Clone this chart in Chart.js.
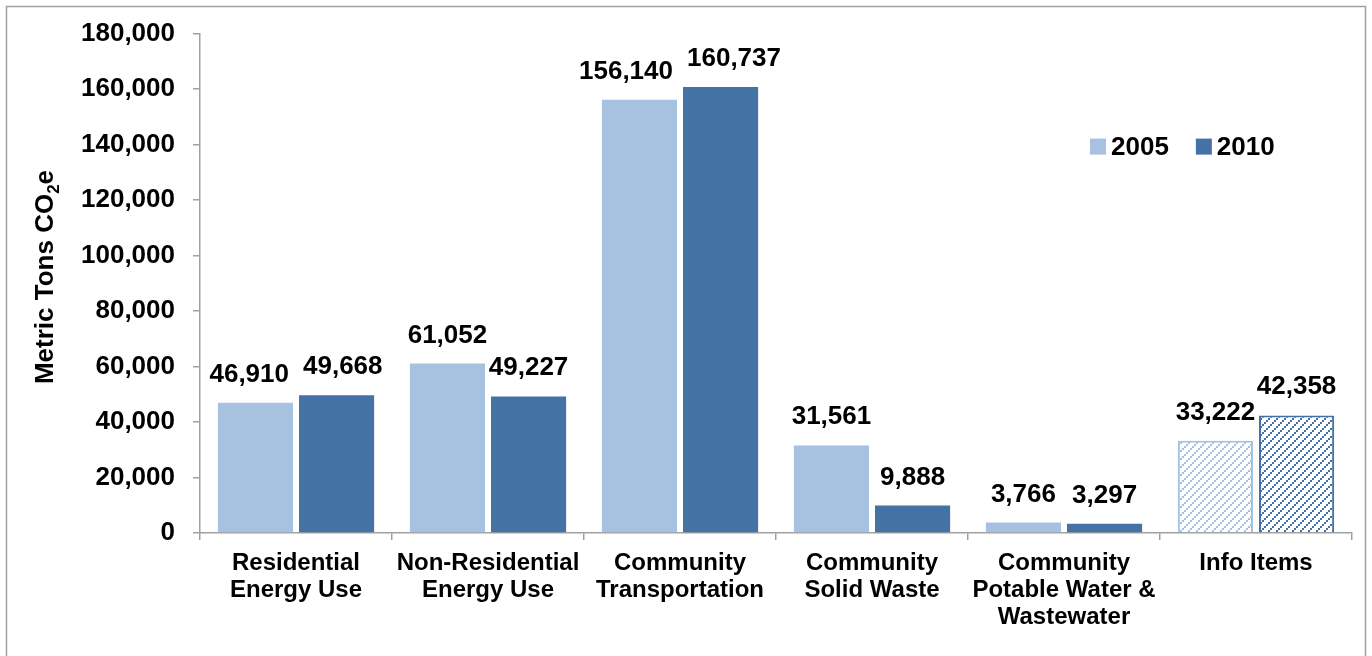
<!DOCTYPE html>
<html>
<head>
<meta charset="utf-8">
<title>Community Emissions</title>
<script src="https://cdn.jsdelivr.net/npm/chart.js@4.4.1/dist/chart.umd.min.js"></script>
<style>
    html, body { margin: 0; padding: 0; background: #fff; }
    #wrap { position: relative; width: 1372px; height: 656px; }
</style>
</head>
<body>
<div id="wrap"><canvas id="emissionsChart"></canvas></div>
<script>
// ==========================================
// DATA
// ==========================================

const categories = [
    ["Residential", "Energy Use"],
    ["Non-Residential", "Energy Use"],
    ["Community", "Transportation"],
    ["Community", "Solid Waste"],
    ["Community", "Potable Water &", "Wastewater"],
    ["Info Items"]
];

const seriesNames = ["2005", "2010"];
const values2005 = [46910, 61052, 156140, 31561, 3766, 33222];
const values2010 = [49668, 49227, 160737, 9888, 3297, 42358];

const yTicks = [0, 20000, 40000, 60000, 80000, 100000, 120000, 140000, 160000, 180000];
const yTitle = ["Metric Tons CO", "2", "e"];

const infoCategory = "Info Items";

// ==========================================
// STYLE
// ==========================================

const lightBlue = "#A7C1E0";
const darkBlue = "#4572A5";
const axisGray = "#A0A0A0";
const fontFamily = "'Liberation Sans', Arial, sans-serif";

function makeHatch(color) {
    const tile = document.createElement("canvas");
    tile.width = 8;
    tile.height = 8;
    const g = tile.getContext("2d");
    g.fillStyle = "#ffffff";
    g.fillRect(0, 0, 8, 8);
    g.fillStyle = color;
    for (let i = 0; i < 8; i += 2) {
        g.fillRect(i, 6 - i, 2, 2);
    }
    return g.createPattern(tile, "repeat");
}

const ctx2d = document.getElementById("emissionsChart").getContext("2d");
const hatchLight = makeHatch(lightBlue);
const hatchDark = makeHatch(darkBlue);

function isInfo(index) {
    return categories[index].join(" ") === infoCategory;
}

// ==========================================
// PLUGINS
// ==========================================

// outer frame round the whole figure
const framePlugin = {
    id: "frame",
    beforeDraw(chart) {
        const c = chart.ctx;
        c.save();
        c.strokeStyle = axisGray;
        c.lineWidth = 1.5;
        c.strokeRect(6.5, 6.5, chart.width - 13, chart.height + 20);
        c.restore();
    }
};

// value labels above each bar, pushed apart when a pair collides
const valueLabels = {
    id: "valueLabels",
    afterDatasetsDraw(chart) {
        const c = chart.ctx;
        c.save();
        c.font = "bold 26px " + fontFamily;
        c.fillStyle = "#000";
        c.textAlign = "center";
        c.textBaseline = "alphabetic";

        const m0 = chart.getDatasetMeta(0).data;
        const m1 = chart.getDatasetMeta(1).data;
        const d0 = chart.data.datasets[0].data;
        const d1 = chart.data.datasets[1].data;

        for (let i = 0; i < m0.length; i++) {
            const t0 = d0[i].toLocaleString("en-US");
            const t1 = d1[i].toLocaleString("en-US");
            let x0 = m0[i].x;
            let x1 = m1[i].x;
            const y0 = m0[i].y - 21;
            const y1 = m1[i].y - 21;
            const need = (c.measureText(t0).width + c.measureText(t1).width) / 2 + 14;
            if (Math.abs(y0 - y1) < 22 && x1 - x0 < need) {
                const push = (need - (x1 - x0)) / 2;
                x0 -= push;
                x1 += push;
            }
            c.fillText(t0, x0, y0);
            c.fillText(t1, x1, y1);
        }
        c.restore();
    }
};

// legend inside the plot, upper right
const cornerLegend = {
    id: "cornerLegend",
    afterDraw(chart) {
        const c = chart.ctx;
        const area = chart.chartArea;
        const colors = [lightBlue, darkBlue];
        c.save();
        c.font = "bold 26px " + fontFamily;
        c.textBaseline = "middle";
        c.textAlign = "left";
        let x = area.right - 262;
        const y = area.top + 113;
        chart.data.datasets.forEach((ds, i) => {
            c.fillStyle = colors[i];
            c.fillRect(x, y - 8, 16, 16);
            c.fillStyle = "#000";
            c.fillText(ds.label, x + 21, y + 1);
            x += 21 + c.measureText(ds.label).width + 27;
        });
        c.restore();
    }
};

// rotated y-axis title with subscript
const axisTitle = {
    id: "axisTitle",
    afterDraw(chart) {
        const c = chart.ctx;
        c.save();
        c.translate(46, 277);
        c.rotate(-Math.PI / 2);
        c.fillStyle = "#000";
        c.textBaseline = "middle";
        c.textAlign = "left";
        const big = "bold 26px " + fontFamily;
        const small = "bold 17px " + fontFamily;
        c.font = big;
        const w0 = c.measureText(yTitle[0]).width;
        const w2 = c.measureText(yTitle[2]).width;
        c.font = small;
        const w1 = c.measureText(yTitle[1]).width;
        let x = -(w0 + w1 + w2) / 2;
        c.font = big;
        c.fillText(yTitle[0], x, 0);
        x += w0;
        c.font = small;
        c.fillText(yTitle[1], x, 8);
        x += w1;
        c.font = big;
        c.fillText(yTitle[2], x, 0);
        c.restore();
    }
};

// ==========================================
// CHART
// ==========================================

new Chart(ctx2d, {

    type: "bar",

    data: {

        labels: categories,

        datasets: [

            {
                label: seriesNames[0],
                data: values2005,
                backgroundColor: c => isInfo(c.dataIndex) ? hatchLight : lightBlue,
                borderColor: lightBlue,
                borderWidth: c => isInfo(c.dataIndex) ? 2 : 0,
                borderSkipped: "bottom",
                categoryPercentage: 0.845,
                barPercentage: 0.926,
            },

            {
                label: seriesNames[1],
                data: values2010,
                backgroundColor: c => isInfo(c.dataIndex) ? hatchDark : darkBlue,
                borderColor: darkBlue,
                borderWidth: c => isInfo(c.dataIndex) ? 2 : 0,
                borderSkipped: "bottom",
                categoryPercentage: 0.845,
                barPercentage: 0.926,
            }

        ]

    },

    options: {

        responsive: true,

        maintainAspectRatio: false,

        animation: false,

        layout: {
            padding: { top: 28, right: 20, left: 0, bottom: 0 }
        },

        plugins: {
            legend: { display: false },
            tooltip: { enabled: false }
        },

        scales: {

            x: {
                offset: true,
                afterFit(scale) { scale.height = 123; },
                grid: {
                    offset: true,
                    drawOnChartArea: false,
                    tickLength: 7,
                    color: axisGray,
                    lineWidth: 1.5
                },
                border: { color: axisGray, width: 1.5 },
                ticks: {
                    color: "#000",
                    padding: 10,
                    maxRotation: 0,
                    autoSkip: false,
                    font: { family: fontFamily, size: 24, weight: "bold", lineHeight: 1.13 }
                }
            },

            y: {
                min: yTicks[0],
                max: yTicks[yTicks.length - 1],
                afterFit(scale) { scale.width = 200; },
                afterBuildTicks(scale) {
                    scale.ticks = yTicks.map(v => ({ value: v }));
                },
                grid: {
                    drawOnChartArea: false,
                    tickLength: 7,
                    color: axisGray,
                    lineWidth: 1.5
                },
                border: { color: axisGray, width: 1.5 },
                ticks: {
                    color: "#000",
                    padding: 18,
                    font: { family: fontFamily, size: 26, weight: "bold" },
                    callback: function (value) {
                        return value.toLocaleString("en-US");
                    }
                }
            }

        }

    },

    plugins: [framePlugin, valueLabels, cornerLegend, axisTitle]

});
</script>
</body>
</html>
